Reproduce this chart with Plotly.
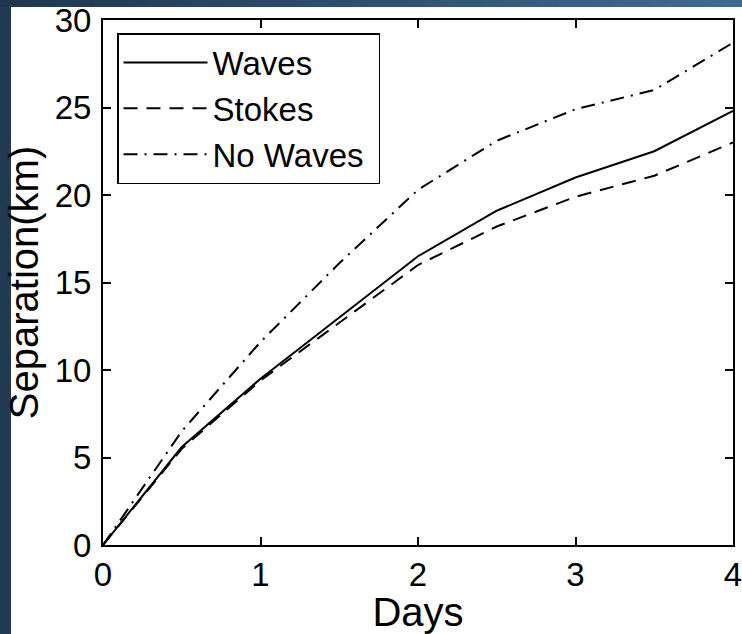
import plotly.graph_objects as go

days = [0, 0.5, 1, 1.5, 2, 2.5, 3, 3.5, 4]
waves = [0, 5.6, 9.5, 13.0, 16.5, 19.1, 21.0, 22.5, 24.8]
stokes = [0, 5.5, 9.4, 12.7, 16.0, 18.2, 19.9, 21.1, 23.0]
no_waves = [0, 6.5, 11.6, 16.1, 20.3, 23.1, 24.9, 26.0, 28.7]

x_ticks = [0, 1, 2, 3, 4]
y_ticks = [0, 5, 10, 15, 20, 25, 30]

FONT = "Liberation Sans, Arial, Helvetica, sans-serif"
W, H = 742, 634
ML, MR, MT, MB = 103, 9, 20, 89
PW, PH = W - ML - MR, H - MT - MB

fig = go.Figure()
fig.add_trace(go.Scatter(x=days, y=waves, mode="lines", name="Waves",
                         line=dict(color="black", width=2, dash="solid")))
fig.add_trace(go.Scatter(x=days, y=stokes, mode="lines", name="Stokes",
                         line=dict(color="black", width=2, dash="14px,9px")))
fig.add_trace(go.Scatter(x=days, y=no_waves, mode="lines", name="No Waves\u00a0",
                         line=dict(color="black", width=2, dash="14px,7px,2px,7px")))


def px2paper_x(px):
    return (px - ML) / PW


def px2paper_y(py):
    return 1 - (py - MT) / PH


# slide background strips (decoration)
shapes = []
shapes.append(dict(type="rect", xref="paper", yref="paper", layer="above",
                   x0=px2paper_x(-2), x1=px2paper_x(11), y0=px2paper_y(H + 2), y1=px2paper_y(-2),
                   fillcolor="#223a52", line=dict(width=0)))
N = 40
c0 = (0x1f, 0x36, 0x50)
c1 = (0x3f, 0x6b, 0x93)
for i in range(N):
    t = i / (N - 1)
    col = "rgb(%d,%d,%d)" % tuple(round(a + (b - a) * t) for a, b in zip(c0, c1))
    shapes.append(dict(type="rect", xref="paper", yref="paper", layer="above",
                       x0=px2paper_x(W * i / N), x1=px2paper_x(W * (i + 1) / N + 1),
                       y0=px2paper_y(7), y1=px2paper_y(-2),
                       fillcolor=col, line=dict(width=0)))

fig.update_layout(
    width=W, height=H,
    margin=dict(l=ML, r=MR, t=MT, b=MB, pad=0, autoexpand=False),
    paper_bgcolor="white", plot_bgcolor="white",
    font=dict(family=FONT, size=33, color="black"),
    showlegend=True,
    legend=dict(x=px2paper_x(117), y=px2paper_y(33), xanchor="left", yanchor="top",
                bgcolor="white", bordercolor="black", borderwidth=1.5,
                font=dict(size=33), itemwidth=84, tracegroupgap=0),
    shapes=shapes,
)
fig.update_xaxes(range=[0, 4], tickvals=x_ticks, ticktext=[str(v) for v in x_ticks],
                 showgrid=False, zeroline=False, showline=True, linecolor="black", linewidth=2,
                 mirror="ticks", ticks="inside", ticklen=8, tickwidth=1.5, tickcolor="black",
                 automargin=False, ticklabeloverflow="allow",
                 title=dict(text="Days", standoff=4), ticklabelstandoff=-1)
fig.update_yaxes(range=[0, 30], tickvals=y_ticks, ticktext=[str(v) for v in y_ticks],
                 showgrid=False, zeroline=False, showline=True, linecolor="black", linewidth=2,
                 mirror="ticks", ticks="inside", ticklen=8, tickwidth=1.5, tickcolor="black",
                 automargin=False, ticklabeloverflow="allow",
                 title=dict(text="Separation(km)", standoff=4), ticklabelstandoff=3)

fig.write_html("out.html", config={"displayModeBar": False},
               post_script="document.body.style.margin='0';document.body.style.overflow='hidden';")
